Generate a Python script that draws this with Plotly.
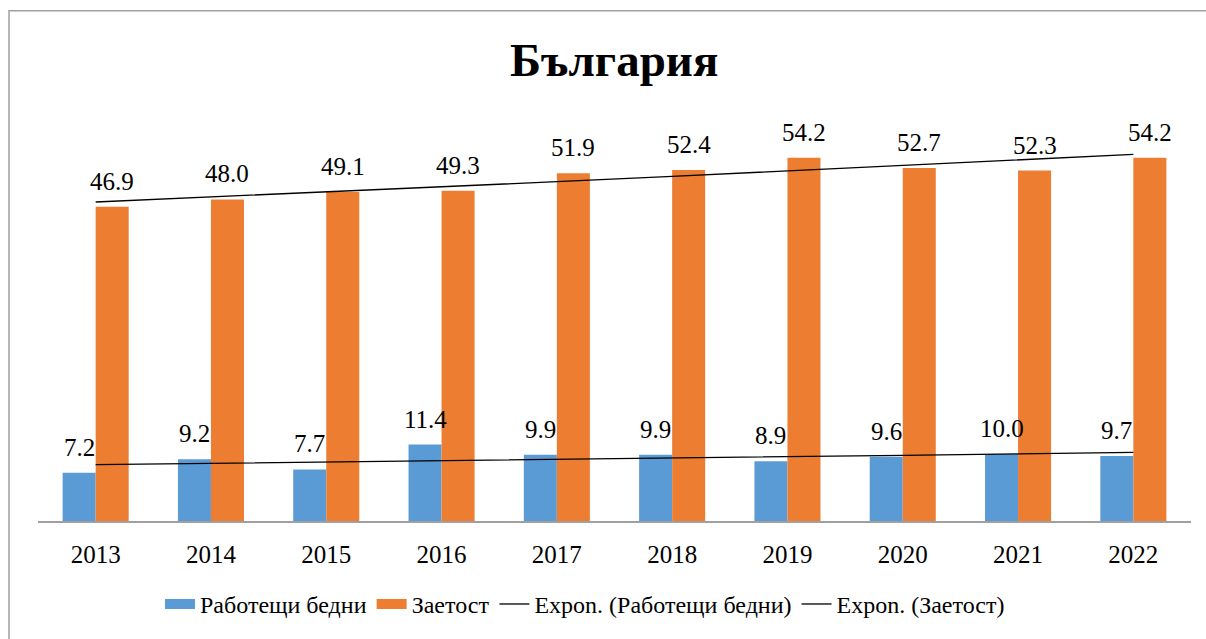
import numpy as np
import plotly.graph_objects as go

years = [2013, 2014, 2015, 2016, 2017, 2018, 2019, 2020, 2021, 2022]
working_poor = [7.2, 9.2, 7.7, 11.4, 9.9, 9.9, 8.9, 9.6, 10.0, 9.7]
employment = [46.9, 48.0, 49.1, 49.3, 51.9, 52.4, 54.2, 52.7, 52.3, 54.2]

name_poor = "Работещи бедни"
name_emp = "Заетост"
title_text = "България"

BLUE = "#5B9BD5"
ORANGE = "#ED7D31"
FONT = "Liberation Serif, Times New Roman, serif"


def expon_fit(vals):
    xs = np.arange(1, len(vals) + 1)
    b, ln_a = np.polyfit(xs, np.log(vals), 1)
    return [float(v) for v in np.exp(ln_a) * np.exp(b * xs)]


W, H = 1206, 639
ml, mr, mt, mb = 38, 15, 119, 115
pw = W - ml - mr
ph = H - mt - mb

fig = go.Figure()
fig.add_trace(go.Bar(x=years, y=working_poor, name=name_poor, marker_color=BLUE,
                     marker_line_width=0, showlegend=False))
fig.add_trace(go.Bar(x=years, y=employment, name=name_emp, marker_color=ORANGE,
                     marker_line_width=0, showlegend=False))
# legend entries styled like Office chart swatches
fig.add_trace(go.Scatter(x=[years[0]], y=[None], mode="lines", name=name_poor,
                         line=dict(color=BLUE, width=14)))
fig.add_trace(go.Scatter(x=[years[0]], y=[None], mode="lines", name=name_emp,
                         line=dict(color=ORANGE, width=14)))
fig.add_trace(go.Scatter(x=years, y=expon_fit(working_poor), mode="lines",
                         name="Expon. (" + name_poor + ")",
                         line=dict(color="black", width=1.3)))
fig.add_trace(go.Scatter(x=years, y=expon_fit(employment), mode="lines",
                         name="Expon. (" + name_emp + ")",
                         line=dict(color="black", width=1.3)))

annotations = []
for yr, v in zip(years, working_poor):
    annotations.append(dict(x=yr, y=v, xref="x", yref="y", text=f"{v:.1f}",
                            showarrow=False, xshift=-16.5, yshift=10,
                            yanchor="bottom", font=dict(family=FONT, size=25, color="black")))
for yr, v in zip(years, employment):
    annotations.append(dict(x=yr, y=v, xref="x", yref="y", text=f"{v:.1f}",
                            showarrow=False, xshift=16.5, yshift=10,
                            yanchor="bottom", font=dict(family=FONT, size=25, color="black")))

# title
annotations.append(dict(x=(614 - ml) / pw, y=(H - mb - 60) / ph, xref="paper", yref="paper",
                        text="<b>" + title_text + "</b>", showarrow=False,
                        xanchor="center", yanchor="middle",
                        font=dict(family=FONT, size=47, color="black")))

# outer chart-area border
shapes = [dict(type="rect", xref="paper", yref="paper",
               x0=(9 - ml) / pw, x1=(1215 - ml) / pw,
               y0=(H - mb - 650) / ph, y1=(H - mb - 10) / ph,
               line=dict(color="#a0a0a0", width=1.5), fillcolor="rgba(0,0,0,0)", layer="below")]

fig.update_layout(
    width=W, height=H,
    margin=dict(l=ml, r=mr, t=mt, b=mb),
    paper_bgcolor="white", plot_bgcolor="white",
    barmode="group", bargap=0.427, bargroupgap=0,
    showlegend=True,
    legend=dict(orientation="h", x=(585 - ml) / pw, xanchor="center",
                y=(H - mb - 608) / ph, yanchor="middle",
                font=dict(family=FONT, size=24, color="black"), traceorder="normal"),
    annotations=annotations,
    shapes=shapes,
    font=dict(family=FONT, color="black"),
)
fig.update_xaxes(range=[years[0] - 0.5, years[-1] + 0.5], autorange=False,
                 tickmode="array", tickvals=years, ticktext=[str(y) for y in years],
                 showline=True, linecolor="#a0a0a0", linewidth=1.5, showgrid=False,
                 zeroline=False, ticks="", ticklabelstandoff=10,
                 tickfont=dict(family=FONT, size=25, color="black"))
fig.update_yaxes(range=[0, 60], autorange=False, visible=False, showgrid=False)

fig.write_html("out.html", config={"displayModeBar": False},
               post_script="document.body.style.margin='0';document.body.style.overflow='hidden';")
